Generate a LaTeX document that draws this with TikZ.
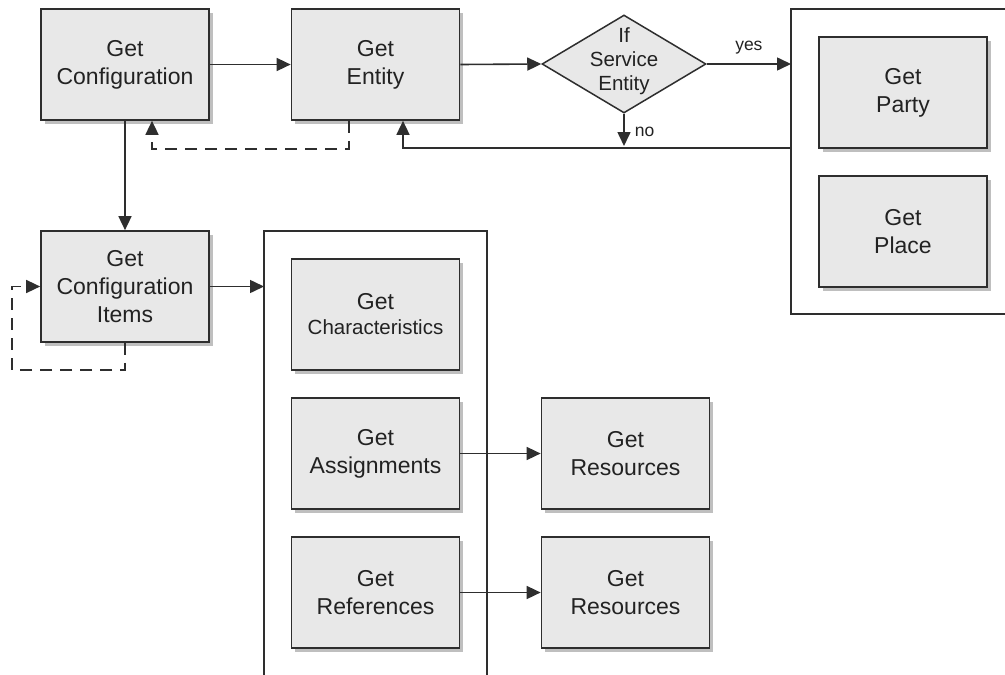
\documentclass[tikz,border=0pt]{standalone}
\usepackage{fontspec}
\setmainfont{Liberation Sans}
\usetikzlibrary{arrows.meta,shapes.geometric,shadows}
\definecolor{ln}{HTML}{2E2E2E}
\definecolor{bx}{HTML}{E8E8E8}
\definecolor{tx}{HTML}{222222}
\begin{document}
\begin{tikzpicture}[x=1pt,y=-1pt,
  procbox/.style={draw=ln,line width=1.7pt,fill=bx,minimum width=168pt,minimum height=111pt,
    inner sep=0pt,align=center,text=tx,font=\fontsize{23pt}{28pt}\selectfont,
    drop shadow={shadow xshift=3.5pt,shadow yshift=-3.5pt,fill=black!45,opacity=0.55}},
  decbox/.style={shape=diamond,draw=ln,line width=1.5pt,fill=bx,minimum width=164pt,minimum height=98pt,inner sep=0pt},
  cont/.style={draw=ln,line width=1.6pt},
  arr/.style={draw=ln,line width=1.6pt,-{Triangle[length=14pt,width=13pt]}},
  dasharr/.style={arr,dash pattern=on 12pt off 8pt},
  lbl/.style={text=tx,font=\fontsize{17.5pt}{20pt}\selectfont,inner sep=0pt}
]
\fill[white] (0,0) rectangle (1005,675);
\useasboundingbox (0,0) rectangle (1005,675);

% containers
\draw[cont] (1005,9) -- (791,9) -- (791,314) -- (1005,314);
\draw[cont] (264,676) -- (264,231) -- (487,231) -- (487,676);
\coordinate (c2in) at (791,64);
\coordinate (c2ret) at (791,148);
\coordinate (c1in) at (264,286.5);
\coordinate (noend) at (624,146);

% nodes
\node[procbox] (conf) at (125,64.5) {Get\\Configuration};
\node[procbox] (ent) at (375.5,64.5) {Get\\Entity};
\node[decbox,label={[text=tx,align=center,font=\fontsize{20.5pt}{24pt}\selectfont,yshift=3pt]center:If\\Service\\Entity}] (dia) at (624,64) {};
\node[procbox] (party) at (903,92.5) {Get\\Party};
\node[procbox] (place) at (903,231.5) {Get\\Place};
\node[procbox] (items) at (125,286.5) {Get\\Configuration\\Items};
\node[procbox,font=\fontsize{23pt}{25pt}\selectfont] (char) at (375.5,314.5) {Get\\{\fontsize{20.5pt}{25pt}\selectfont Characteristics}};
\node[procbox] (assign) at (375.5,453.5) {Get\\Assignments};
\node[procbox] (ref) at (375.5,592.5) {Get\\References};
\node[procbox] (res1) at (625.5,453.5) {Get\\Resources};
\node[procbox] (res2) at (625.5,592.5) {Get\\Resources};

% connectors
\draw[arr] (conf.east) -- (ent.west);
\draw[arr] (ent.east) -- (dia.west);
\draw[arr] (dia.east) -- node[lbl,above=9pt] (yes) {yes} (c2in);
\draw[arr] (dia.south) -- node[lbl,right=10pt,yshift=-2pt] (no) {no} (noend);
\draw[arr] (c2ret) -| ([xshift=27.5pt]ent.south);
\draw[dasharr] ([xshift=-26.5pt]ent.south) -- ++(0,28) -| ([xshift=27pt]conf.south);
\draw[arr] (conf.south) -- (items.north);
\draw[arr] (items.east) -- (c1in);
\draw[dasharr] (items.south) -- ++(0,27) -| ([xshift=-28pt]items.west) -- (items.west);
\draw[arr] (assign.east) -- (res1.west);
\draw[arr] (ref.east) -- (res2.west);
\end{tikzpicture}
\end{document}
